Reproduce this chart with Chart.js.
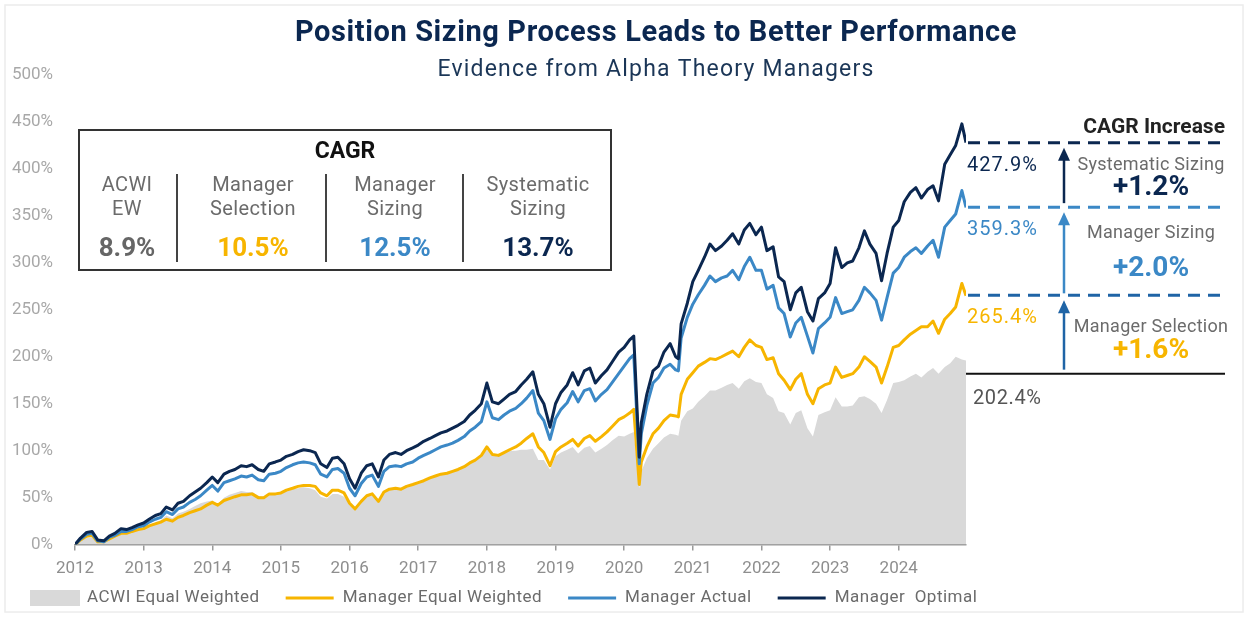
<!DOCTYPE html>
<html>
<head>
<meta charset="utf-8">
<script src="https://cdn.jsdelivr.net/npm/chart.js@4.4.1/dist/chart.umd.min.js"></script>
<style>
  html, body { margin: 0; padding: 0; background: #fff; }
  #wrap { width: 1252px; height: 620px; position: relative; }
</style>
</head>
<body>
<div id="wrap"><canvas id="myChart"></canvas></div>
<script>
// dates as decimal years, roughly month ends (extra points around the 2020 crash)
const dates = [
  2012.00, 2012.08, 2012.17, 2012.25, 2012.33, 2012.42, 2012.50, 2012.58, 2012.67, 2012.75, 2012.83, 2012.92,
  2013.00, 2013.08, 2013.17, 2013.25, 2013.33, 2013.42, 2013.50, 2013.58, 2013.67, 2013.75, 2013.83, 2013.92,
  2014.00, 2014.08, 2014.17, 2014.25, 2014.33, 2014.42, 2014.50, 2014.58, 2014.67, 2014.75, 2014.83, 2014.92,
  2015.00, 2015.08, 2015.17, 2015.25, 2015.33, 2015.42, 2015.50, 2015.58, 2015.67, 2015.75, 2015.83, 2015.92,
  2016.00, 2016.08, 2016.17, 2016.25, 2016.33, 2016.42, 2016.50, 2016.58, 2016.67, 2016.75, 2016.83, 2016.92,
  2017.00, 2017.08, 2017.17, 2017.25, 2017.33, 2017.42, 2017.50, 2017.58, 2017.67, 2017.75, 2017.83, 2017.92,
  2018.00, 2018.08, 2018.17, 2018.25, 2018.33, 2018.42, 2018.50, 2018.58, 2018.67, 2018.75, 2018.83, 2018.92,
  2019.00, 2019.08, 2019.17, 2019.25, 2019.33, 2019.42, 2019.50, 2019.58, 2019.67, 2019.75, 2019.83, 2019.92,
  2020.00, 2020.08, 2020.14, 2020.22, 2020.25, 2020.33, 2020.42, 2020.50, 2020.58, 2020.67, 2020.75, 2020.79, 2020.83, 2020.92,
  2021.00, 2021.08, 2021.17, 2021.25, 2021.33, 2021.42, 2021.50, 2021.58, 2021.67, 2021.75, 2021.83, 2021.92,
  2022.00, 2022.08, 2022.17, 2022.25, 2022.33, 2022.42, 2022.50, 2022.58, 2022.67, 2022.75, 2022.83, 2022.92,
  2023.00, 2023.08, 2023.17, 2023.25, 2023.33, 2023.42, 2023.50, 2023.58, 2023.67, 2023.75, 2023.83, 2023.92,
  2024.00, 2024.08, 2024.17, 2024.25, 2024.33, 2024.42, 2024.50, 2024.58, 2024.67, 2024.75, 2024.83, 2024.92, 2024.98
];
const yearTicks = [2012, 2013, 2014, 2015, 2016, 2017, 2018, 2019, 2020, 2021, 2022, 2023, 2024];

// cumulative return, %
const acwiEW = [
  0, 4, 7, 8, 2, 2, 5, 8, 11, 11, 13, 16,
  17, 21, 24, 26, 31, 28, 33, 35, 38, 41, 44, 46,
  47, 43, 50, 53, 55, 57, 56, 56, 52, 51, 55, 55,
  55, 57, 59, 60, 61, 60, 58, 51, 49, 54, 54, 51,
  44, 40, 48, 52, 53, 48, 56, 58, 59, 58, 61, 63,
  66, 68, 71, 73, 75, 76, 78, 80, 83, 87, 90, 94,
  101, 96, 95, 98, 100, 100, 101, 101, 102, 90, 90, 80,
  94, 98, 101, 104, 97, 103, 105, 98, 102, 106, 111, 116,
  115, 118, 120, 60, 78, 92, 102, 108, 114, 118, 117, 116, 132, 142,
  145, 152, 158, 164, 164, 167, 170, 172, 166, 174, 177, 173,
  172, 160, 156, 142, 140, 128, 140, 143, 124, 115, 138, 141,
  143, 157, 147, 147, 148, 157, 158, 155, 150, 140, 154, 172,
  173, 175, 179, 182, 178, 184, 188, 182, 189, 193, 200, 197, 196
];
const mgrEqualWeighted = [
  0, 5, 9, 10, 3, 3, 6, 9, 12, 12, 14, 16,
  17, 20, 22, 24, 27, 25, 29, 31, 34, 36, 38, 42,
  45, 42, 47, 49, 51, 53, 53, 54, 50, 50, 54, 54,
  55, 58, 60, 62, 63, 63, 62, 55, 52, 58, 58, 55,
  44, 38, 46, 52, 54, 46, 56, 59, 60, 59, 62, 64,
  66, 68, 71, 73, 75, 76, 78, 80, 83, 87, 90, 95,
  104, 96, 95, 98, 101, 104, 108, 113, 118, 104, 98, 84,
  99, 104, 108, 112, 105, 113, 116, 110, 115, 120, 126, 133,
  136, 140, 144, 64, 88, 104, 118, 124, 132, 138, 137, 136, 160, 176,
  183, 190, 194, 198, 197, 200, 203, 206, 200, 210, 218, 212,
  210, 197, 199, 182, 175, 165, 176, 182, 160, 150, 166, 170,
  172, 189, 178, 180, 182, 189, 200, 195, 189, 172, 189, 210,
  212, 218, 224, 228, 232, 232, 238, 225, 240, 246, 253, 278, 265
];
const mgrActual = [
  0, 6, 11, 12, 4, 3, 8, 10, 14, 14, 16, 19,
  20, 24, 27, 29, 35, 32, 38, 40, 45, 48, 52, 58,
  63, 57, 66, 68, 70, 73, 72, 74, 69, 68, 75, 76,
  78, 82, 85, 87, 88, 87, 85, 75, 72, 80, 81, 76,
  60, 52, 65, 72, 74, 62, 78, 83, 84, 83, 86, 88,
  92, 95, 98, 101, 104, 106, 108, 111, 115, 121, 125, 131,
  152, 135, 133, 138, 142, 145, 150, 156, 164, 140, 132, 112,
  134, 144, 151, 163, 152, 164, 166, 153, 160, 165, 173, 182,
  190, 198, 202, 86, 118, 148, 172, 178, 188, 192, 186, 185, 220, 242,
  256, 266, 276, 286, 280, 284, 286, 292, 282, 296, 306, 292,
  292, 272, 276, 252, 246, 221, 236, 242, 222, 204, 230, 236,
  242, 263, 246, 248, 250, 260, 274, 268, 260, 239, 263, 289,
  295, 306, 312, 316, 310, 318, 324, 306, 338, 345, 352, 377, 359
];
const mgrOptimal = [
  0, 7, 13, 14, 5, 4, 9, 12, 17, 16, 18, 21,
  23, 27, 31, 33, 40, 37, 44, 46, 52, 56, 60, 66,
  72, 66, 75, 78, 80, 84, 83, 85, 80, 78, 86, 88,
  90, 94, 96, 99, 101, 100, 98, 86, 82, 92, 93, 86,
  70, 60, 76, 84, 86, 72, 90, 96, 98, 96, 100, 103,
  106, 110, 113, 116, 119, 121, 124, 127, 131, 138, 143, 150,
  172, 152, 150, 155, 160, 163, 170, 176, 184, 160, 150, 125,
  150, 162, 170, 183, 170, 185, 188, 172, 180, 186, 195, 205,
  210, 218, 222, 93, 130, 160, 185, 190, 205, 214, 200, 198, 235, 257,
  280, 292, 306, 320, 313, 318, 324, 331, 320, 335, 342, 330,
  338, 313, 317, 285, 280, 250, 268, 274, 248, 238, 262, 268,
  278, 316, 295, 300, 302, 316, 334, 320, 310, 281, 310, 338,
  345, 365, 375, 380, 369, 378, 382, 366, 405, 415, 425, 448, 428
];

const seriesNames = ['ACWI Equal Weighted', 'Manager Equal Weighted', 'Manager Actual', 'Manager  Optimal'];
const cagrLabels = [['ACWI', 'EW'], ['Manager', 'Selection'], ['Manager', 'Sizing'], ['Systematic', 'Sizing']];
const cagrValues = ['8.9%', '10.5%', '12.5%', '13.7%'];
const endValues = [202.4, 265.4, 359.3, 427.9];
const increaseLabels = ['Manager Selection', 'Manager Sizing', 'Systematic Sizing'];
const increaseValues = ['+1.6%', '+2.0%', '+1.2%'];
const baseLineValue = 182;

const GRAY = '#d9d9d9', GOLD = '#f7b500', BLUE = '#3b88c6', NAVY = '#0b2750', MIDBLUE = '#1f64a6';
const FONT = 'Roboto, "Noto Sans", sans-serif';

function pts(vals) {
  return vals.map((v, i) => ({ x: dates[i], y: v }));
}

function txt(ctx, s, x, y, size, color, align, bold, spacing) {
  ctx.font = (bold ? 'bold ' : '') + size + 'px ' + FONT;
  ctx.letterSpacing = (spacing || 0) + 'px';
  ctx.fillStyle = color;
  ctx.textAlign = align || 'center';
  ctx.textBaseline = 'middle';
  ctx.fillText(s, x, y);
  const w = ctx.measureText(s).width;
  ctx.letterSpacing = '0px';
  return w;
}

function arrow(ctx, x, yFrom, yTo, color) {
  ctx.strokeStyle = color;
  ctx.fillStyle = color;
  ctx.lineWidth = 2.5;
  ctx.beginPath();
  ctx.moveTo(x, yFrom);
  ctx.lineTo(x, yTo + 10);
  ctx.stroke();
  ctx.beginPath();
  ctx.moveTo(x, yTo);
  ctx.lineTo(x - 6, yTo + 13);
  ctx.lineTo(x + 6, yTo + 13);
  ctx.closePath();
  ctx.fill();
}

const extras = {
  id: 'extras',
  afterDraw(chart) {
    const ctx = chart.ctx;
    const y = chart.scales.y;
    const right = chart.chartArea.right;
    ctx.save();

    // frame
    ctx.strokeStyle = '#ececec';
    ctx.lineWidth = 1.5;
    ctx.strokeRect(5, 5, 1238, 607);

    // titles
    txt(ctx, 'Position Sizing Process Leads to Better Performance', 656, 34, 29, NAVY, 'center', true, 0.6);
    txt(ctx, 'Evidence from Alpha Theory Managers', 656, 70, 23, '#1b3657', 'center', false, 1.2);

    // CAGR box
    ctx.fillStyle = '#fff';
    ctx.fillRect(79, 130, 532, 140);
    ctx.strokeStyle = '#333';
    ctx.lineWidth = 2;
    ctx.strokeRect(79, 130, 532, 140);
    txt(ctx, 'CAGR', 345, 152, 23, '#111', 'center', true);
    const colX = [127, 253, 395, 538];
    const colColors = ['#666', GOLD, BLUE, NAVY];
    colX.forEach((cx, i) => {
      txt(ctx, cagrLabels[i][0], cx, 186, 20, '#6b6b6b', 'center', false, 0.4);
      txt(ctx, cagrLabels[i][1], cx, 210, 20, '#6b6b6b', 'center', false, 0.4);
      txt(ctx, cagrValues[i], cx, 249, 26, colColors[i], 'center', true);
    });
    ctx.strokeStyle = '#444';
    ctx.lineWidth = 2;
    [177, 326, 463].forEach(sx => {
      ctx.beginPath();
      ctx.moveTo(sx, 174);
      ctx.lineTo(sx, 262);
      ctx.stroke();
    });

    // right side: CAGR increase
    const lineEnd = 1228;
    const dashColors = [MIDBLUE, BLUE, NAVY];
    const yy = endValues.map(v => y.getPixelForValue(v));
    const yBase = y.getPixelForValue(baseLineValue);
    ctx.lineWidth = 3;
    ctx.setLineDash([12, 8]);
    for (let i = 1; i < 4; i++) {
      ctx.strokeStyle = dashColors[i - 1];
      ctx.beginPath();
      ctx.moveTo(right + 2, yy[i]);
      ctx.lineTo(lineEnd, yy[i]);
      ctx.stroke();
    }
    ctx.setLineDash([]);
    ctx.strokeStyle = '#111';
    ctx.lineWidth = 2;
    ctx.beginPath();
    ctx.moveTo(right, yBase);
    ctx.lineTo(1225, yBase);
    ctx.stroke();

    txt(ctx, 'CAGR Increase', 1225, 128, 21, '#222', 'right', true);

    const ax = 1064;
    arrow(ctx, ax, yBase - 4, yy[1] + 5, MIDBLUE);
    arrow(ctx, ax, yy[1] - 2, yy[2] + 5, BLUE);
    arrow(ctx, ax, yy[2] - 4, yy[3] + 5, NAVY);

    const endColors = ['#555', GOLD, BLUE, NAVY];
    for (let i = 1; i < 4; i++) {
      txt(ctx, endValues[i].toFixed(1) + '%', 967, yy[i] + 23, 20, endColors[i], 'left', false, 1);
    }
    txt(ctx, endValues[0].toFixed(1) + '%', 973, yBase + 25, 20, '#555', 'left', false, 0.6);

    const incColors = [GOLD, BLUE, NAVY];
    const labY = [[327, 351], [233, 269], [165, 188]];
    for (let i = 0; i < 3; i++) {
      txt(ctx, increaseLabels[i], 1151, labY[i][0], 18, '#6b6b6b', 'center', false, 0.3);
      txt(ctx, increaseValues[i], 1151, labY[i][1], 28, incColors[i], 'center', true);
    }

    // legend
    let lx = 30;
    const ly = 598;
    const legColors = [GRAY, GOLD, BLUE, NAVY];
    seriesNames.forEach((name, i) => {
      if (i === 0) {
        ctx.fillStyle = GRAY;
        ctx.fillRect(lx, ly - 8, 50, 16);
      } else {
        ctx.strokeStyle = legColors[i];
        ctx.lineWidth = 3;
        ctx.beginPath();
        ctx.moveTo(lx, ly);
        ctx.lineTo(lx + 48, ly);
        ctx.stroke();
      }
      lx += 57;
      const w = txt(ctx, name, lx, ly, 17, '#6b6b6b', 'left', false, 0.5);
      lx += w + 26;
    });

    ctx.restore();
  }
};

const chart = new Chart(document.getElementById('myChart'), {
  type: 'line',
  data: {
    datasets: [
      { label: seriesNames[0], data: pts(acwiEW), borderWidth: 0, borderColor: GRAY,
        backgroundColor: GRAY, fill: 'origin', order: 4 },
      { label: seriesNames[1], data: pts(mgrEqualWeighted), borderColor: GOLD, borderWidth: 3, order: 3 },
      { label: seriesNames[2], data: pts(mgrActual), borderColor: BLUE, borderWidth: 3, order: 2 },
      { label: seriesNames[3], data: pts(mgrOptimal), borderColor: NAVY, borderWidth: 3, order: 1 }
    ]
  },
  options: {
    responsive: true,
    maintainAspectRatio: false,
    animation: false,
    elements: {
      point: { radius: 0 },
      line: { tension: 0, borderJoinStyle: 'round' }
    },
    layout: { padding: { top: 75, right: 286, left: 0, bottom: 33 } },
    plugins: {
      legend: { display: false },
      tooltip: { enabled: false }
    },
    scales: {
      x: {
        type: 'linear',
        min: 2012,
        max: 2024.98,
        afterBuildTicks: s => { s.ticks = yearTicks.map(v => ({ value: v })); },
        ticks: {
          padding: 8,
          color: '#8e8e8e',
          font: { family: FONT, size: 17 },
          callback: v => String(v)
        },
        grid: { display: true, drawOnChartArea: false, drawTicks: true, tickLength: 6, color: '#9a9a9a', lineWidth: 1.5 },
        border: { display: true, color: '#9a9a9a', width: 1.5 }
      },
      y: {
        min: 0,
        max: 500,
        afterFit: s => { s.width = 75; },
        ticks: {
          stepSize: 50,
          padding: 14,
          color: '#a8a8a8',
          font: { family: FONT, size: 17 },
          callback: v => v + '%'
        },
        grid: { display: false },
        border: { display: false }
      }
    }
  },
  plugins: [extras]
});
</script>
</body>
</html>
